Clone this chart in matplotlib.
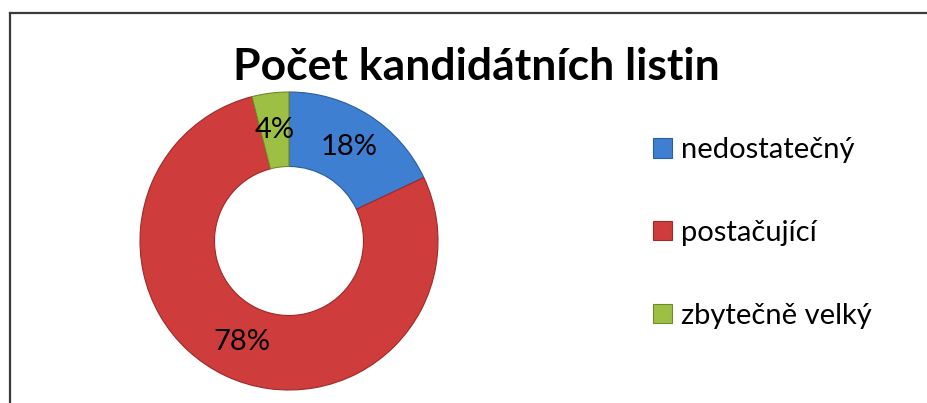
import matplotlib
matplotlib.use("Agg")
import matplotlib.pyplot as plt
from matplotlib.patches import Patch
from matplotlib.lines import Line2D

# --- data ---
title = "Počet kandidátních listin"
categories = ["nedostatečný", "postačující", "zbytečně velký"]
shares = [18, 78, 4]
colors = ["#3F7FD2", "#CE3C3C", "#9DC044"]
edge_colors = ["#2A5E9E", "#9E2A2A", "#6E8A2A"]

W, H = 928, 403
plt.rcParams['font.family'] = ['Lato', 'DejaVu Sans']

fig = plt.figure(figsize=(W / 100, H / 100), dpi=100)

# outer frame (only left and top edges are visible in the crop)
fig.add_artist(Line2D([10 / W, 10 / W], [0, 1 - 13 / H], color="#3a3a3a", lw=1.6))
fig.add_artist(Line2D([10 / W, 1], [1 - 13 / H, 1 - 13 / H], color="#3a3a3a", lw=1.6))

# donut axes: centre (289, 241) px, radius 149 px
cx, cy, r = 289, 241, 149
ax = fig.add_axes([(cx - r) / W, (H - cy - r) / H, 2 * r / W, 2 * r / H])
wedges, texts, autotexts = ax.pie(
    shares, colors=colors, startangle=90, counterclock=False,
    radius=1.0, autopct="%d%%", pctdistance=0.75,
    wedgeprops=dict(width=0.5, linewidth=0.8),
    textprops=dict(fontsize=21, color="black"))
for w, ec in zip(wedges, edge_colors):
    w.set_edgecolor(ec)
ax.set_xlim(-1, 1)
ax.set_ylim(-1, 1)
ax.set_aspect("equal")
ax.axis("off")

fig.text(476 / W, 1 - 67 / H, title, ha="center", va="center",
         fontsize=32, fontweight="bold")

handles = [Patch(facecolor=c, edgecolor=e, linewidth=0.8) for c, e in zip(colors, edge_colors)]
fig.legend(handles, categories, loc="center left",
           bbox_to_anchor=(627 / W, 1 - 233 / H), frameon=False,
           fontsize=21, handlelength=0.65, handleheight=0.65,
           handletextpad=0.3, labelspacing=1.95)

fig.savefig("out.png", dpi=100, facecolor="white")
